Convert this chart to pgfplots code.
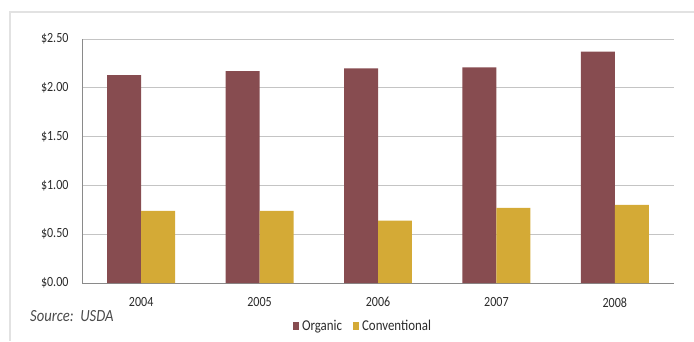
\documentclass[border=0pt]{standalone}
\usepackage{pgfplots}
\pgfplotsset{compat=1.18}
\usepackage{fontspec}
\setmainfont{Carlito}[FakeStretch=0.86]

\definecolor{organic}{HTML}{874C50}
\definecolor{conventional}{HTML}{D4AA36}
\definecolor{txt}{HTML}{2B2B2B}
\definecolor{gridc}{HTML}{C4C4C4}
\definecolor{axisc}{HTML}{8A8A8A}
\definecolor{framec}{HTML}{E2E2E2}

% average retail price per unit, organic vs conventional
\pgfplotstableread{
x year organic conventional
0 2004 2.13 0.74
1 2005 2.17 0.74
2 2006 2.20 0.64
3 2007 2.21 0.77
4 2008 2.37 0.80
}\prices

\begin{document}
\begin{tikzpicture}[x=1pt,y=1pt]
\path[use as bounding box] (0,0) rectangle (694,341);
% light panel border
\draw[framec, line width=1.6pt] (10,0) -- (10,329) -- (694,329);

\begin{axis}[
  at={(82pt,58pt)}, anchor=south west,
  scale only axis, width=592pt, height=244pt,
  xmin=-0.5, xmax=4.5, ymin=0, ymax=2.5,
  ybar=0pt, bar width=0.287,
  xtick={0,1,2,3,4},
  xticklabels={2004,2005,2006,2007,2008},
  ytick={0,0.5,1,1.5,2,2.5},
  yticklabels={\$0.00,\$0.50,\$1.00,\$1.50,\$2.00,\$2.50},
  major tick length=0pt,
  ymajorgrids, grid style={gridc, line width=1pt},
  axis x line*=bottom, axis y line*=left,
  x axis line style={axisc, line width=0.9pt, -},
  y axis line style={axisc, line width=0.9pt, -},
  tick label style={font=\fontsize{14}{15}\selectfont, text=txt},
  yticklabel style={xshift=-10pt},
  xticklabel style={yshift=-11pt},
  legend style={at={(0.4747,-0.176)}, anchor=center, draw=none, fill=none,
    font=\fontsize{15}{16}\selectfont, text=txt,
    legend columns=-1, column sep=1pt,
    /tikz/every even column/.append style={column sep=9pt}},
  legend image code/.code={\fill[#1] (0pt,-4pt) rectangle (6pt,4pt);},
]
\addplot[fill=organic, draw=none] table[x=x, y=organic] {\prices};
\addplot[fill=conventional, draw=none] table[x=x, y=conventional] {\prices};
\legend{Organic, Conventional}
\end{axis}

\node[anchor=west, text=txt!85, font=\fontsize{17}{19}\selectfont\itshape, inner sep=0pt] at (30,24.5) {Source:\ \ USDA};
\end{tikzpicture}
\end{document}
